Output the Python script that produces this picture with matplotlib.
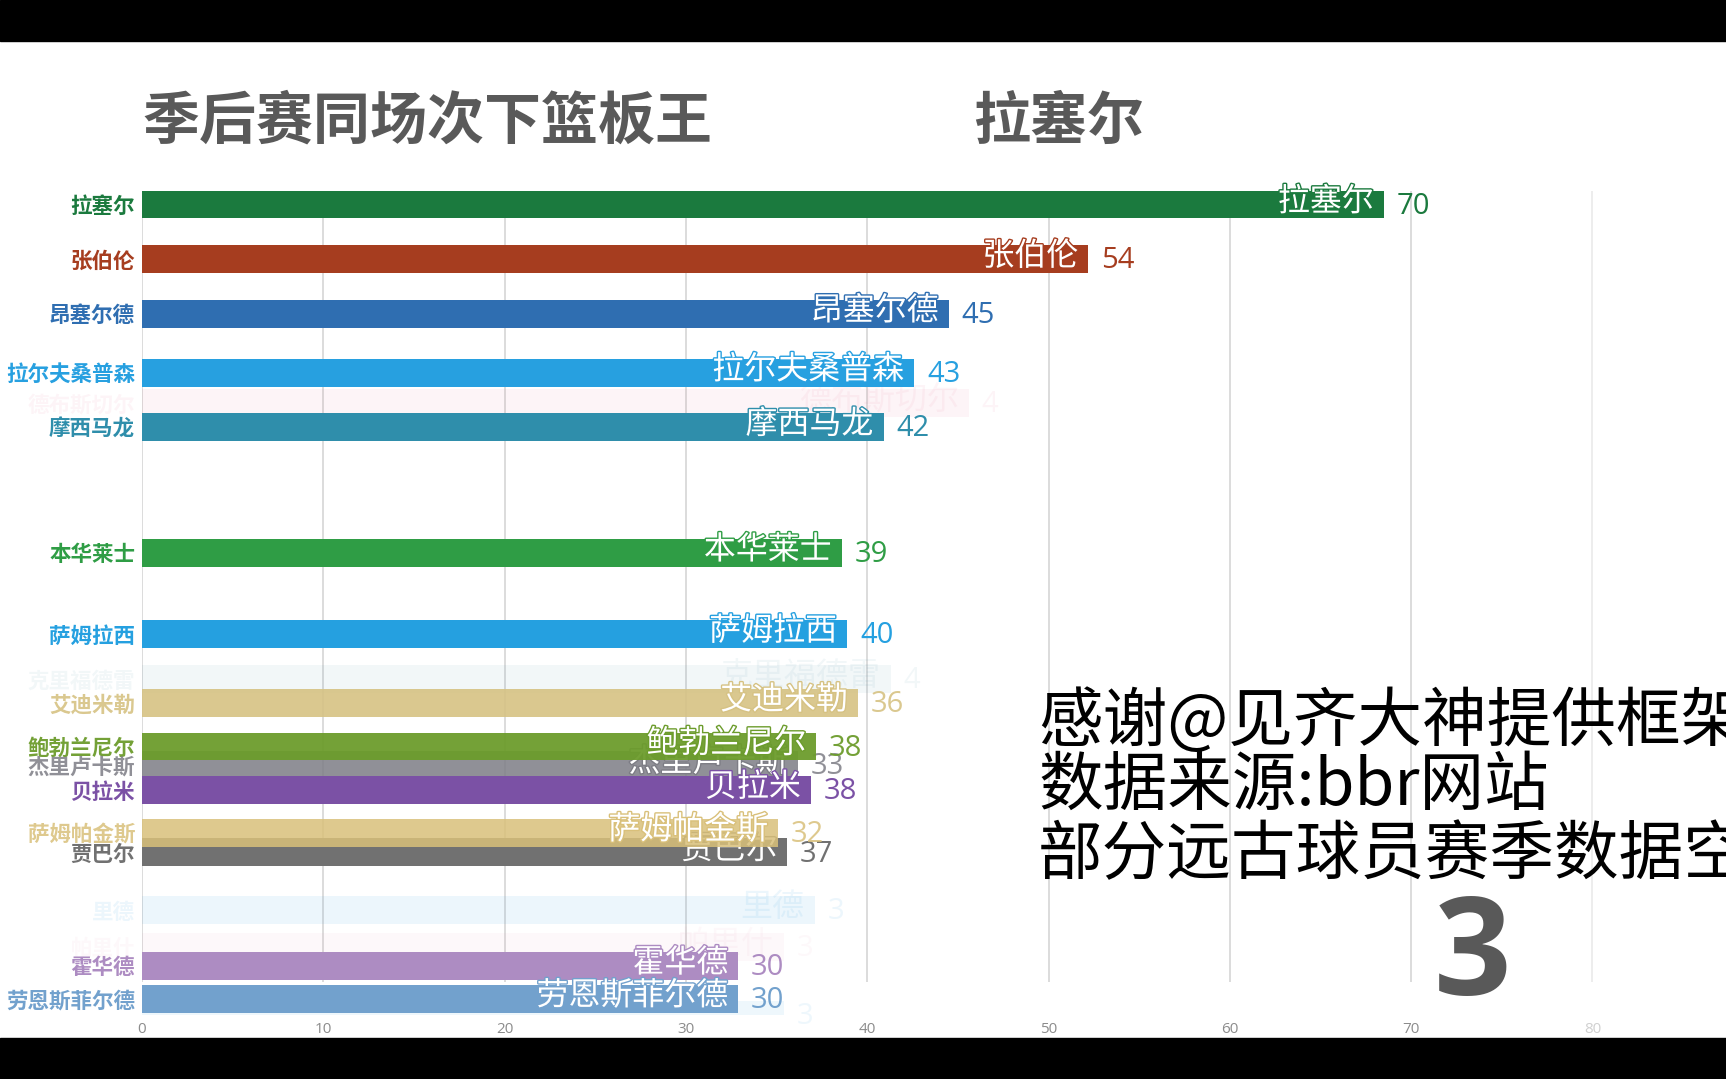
import matplotlib.pyplot as plt
from matplotlib.patches import Rectangle
import matplotlib.patheffects as pe

plt.rcParams['font.family'] = ['Noto Sans CJK SC', 'DejaVu Sans']

# one frame of a bar chart race: bars are mid-animation, so lengths differ from shown labels
names = ['拉塞尔', '张伯伦', '昂塞尔德', '拉尔夫桑普森', '德布斯切尔', '摩西马龙',
         '本华莱士', '萨姆拉西', '克里福德雷', '艾迪米勒', '鲍勃兰尼尔', '杰里卢卡斯',
         '贝拉米', '萨姆帕金斯', '贾巴尔', '里德', '帕里什', '霍华德', '劳恩斯菲尔德', '']
bar_values = [68.5, 52.2, 44.5, 42.6, 45.6, 40.9,
              38.6, 38.9, 41.3, 39.5, 37.2, 36.2,
              36.9, 35.1, 35.6, 37.1, 35.4, 32.9, 32.9, 35.4]
shown = ['70', '54', '45', '43', '4', '42',
         '39', '40', '4', '36', '38', '33',
         '38', '32', '37', '3', '3', '30', '30', '3']
ranks = [1.0, 2.0, 3.0, 4.08, 4.64, 5.08,
         7.38, 8.87, 9.69, 10.13, 10.93, 11.27,
         11.73, 12.51, 12.87, 13.93, 14.6, 14.95, 15.55, 15.85]
colors = ['#1b7a3e', '#a63d1f', '#2f6eb1', '#27a0e0', '#e87a9a', '#2f8eab',
          '#2f9d45', '#25a0e0', '#5a9ab0', '#d6c283', '#6c9c2c', '#7d7d85',
          '#7b51a5', '#d9c07a', '#717171', '#4aa8e4', '#e890b0', '#ad8cc2', '#72a1cd', '#5fb5e8']
alphas = [1, 1, 1, 1, 0.08, 1,
          1, 1, 0.08, 0.9, 0.95, 0.85,
          1, 0.85, 1, 0.1, 0.06, 1, 1, 0.1]
# drawing order so that faded / sliding bars sit underneath
order = [4, 8, 15, 16, 19, 0, 1, 2, 3, 5, 6, 7, 9, 11, 10, 12, 14, 13, 17, 18]

xticks = [0, 10, 20, 30, 40, 50, 60, 70, 80]
title = '季后赛同场次下篮板王'
leader = '拉塞尔'
frame_label = '3'
notes = ['感谢@见齐大神提供框架', '数据来源:bbr网站', '部分远古球员赛季数据空']

W, H = 1726, 1079
fig = plt.figure(figsize=(W / 100, H / 100), dpi=100)
ax = fig.add_axes([142 / W, 1 - 1015 / H, 1 - 142 / W, (1015 - 150) / H])
ax.set_xlim(0, (W - 142) / 18.13)
ax.set_ylim(15.5, 0.0)

# vertical gridlines
for t in xticks:
    ax.vlines(t, 0.76, 15.25, color='#ececec' if t == 80 else '#d9d9d9', lw=1.3, zorder=0)

for k, i in enumerate(order):
    a = alphas[i]
    z = 2 + 2 * k
    ax.barh(ranks[i], bar_values[i], height=0.51, color=colors[i], alpha=a, zorder=z)
    ax.text(bar_values[i] + 0.7, ranks[i] + 0.03, shown[i], color=colors[i], alpha=a,
            fontsize=21, family=['Open Sans', 'DejaVu Sans'], va='center', ha='left', zorder=z + 1)
    if a > 0.5:
        ax.text(bar_values[i] - 0.55, ranks[i] - 0.05, names[i], color='white',
                fontsize=23, va='center', ha='right', zorder=z + 1,
                path_effects=[pe.withStroke(linewidth=2, foreground=colors[i])])
    else:
        ax.text(bar_values[i] - 0.55, ranks[i] - 0.05, names[i], color=colors[i], alpha=a,
                fontsize=23, va='center', ha='right', zorder=z + 1)

ax.set_yticks(ranks, names)
ax.tick_params(axis='y', length=0, pad=5)
for lbl, c, a in zip(ax.get_yticklabels(), colors, alphas):
    lbl.set_color(c)
    lbl.set_alpha(a)
    lbl.set_fontsize(15.5)
    lbl.set_fontweight('bold')

ax.set_xticks(xticks, [str(t) for t in xticks])
ax.tick_params(axis='x', length=0, pad=5, labelsize=11, labelcolor='#8c8c8c')
for lbl in ax.get_xticklabels():
    lbl.set_family(['Open Sans', 'DejaVu Sans'])
ax.get_xticklabels()[-1].set_color('#d0d0d0')

for s in ax.spines.values():
    s.set_visible(False)

fig.text(142 / W, 1 - 122 / H, title, fontsize=41, fontweight='heavy', color='#595959',
         ha='left', va='center')
fig.text(973 / W, 1 - 122 / H, leader, fontsize=41, fontweight='heavy', color='#595959',
         ha='left', va='center')

note_y = [723, 787, 856]
for line, y in zip(notes, note_y):
    fig.text(1038 / W, 1 - y / H, line, fontsize=46.5, color='black',
             ha='left', va='center')

fig.text(1473 / W, 1 - 960 / H, frame_label, fontsize=98, fontweight='bold', color='#595959',
         family=['Open Sans', 'DejaVu Sans'], ha='center', va='center')

# letterbox bands of the video frame
fig.add_artist(Rectangle((0, 1 - 41 / H), 1, 41 / H, transform=fig.transFigure,
                         color='black', zorder=100))
fig.add_artist(Rectangle((0, 0), 1, 41 / H, transform=fig.transFigure,
                         color='black', zorder=100))

fig.savefig('out.png', dpi=100)
